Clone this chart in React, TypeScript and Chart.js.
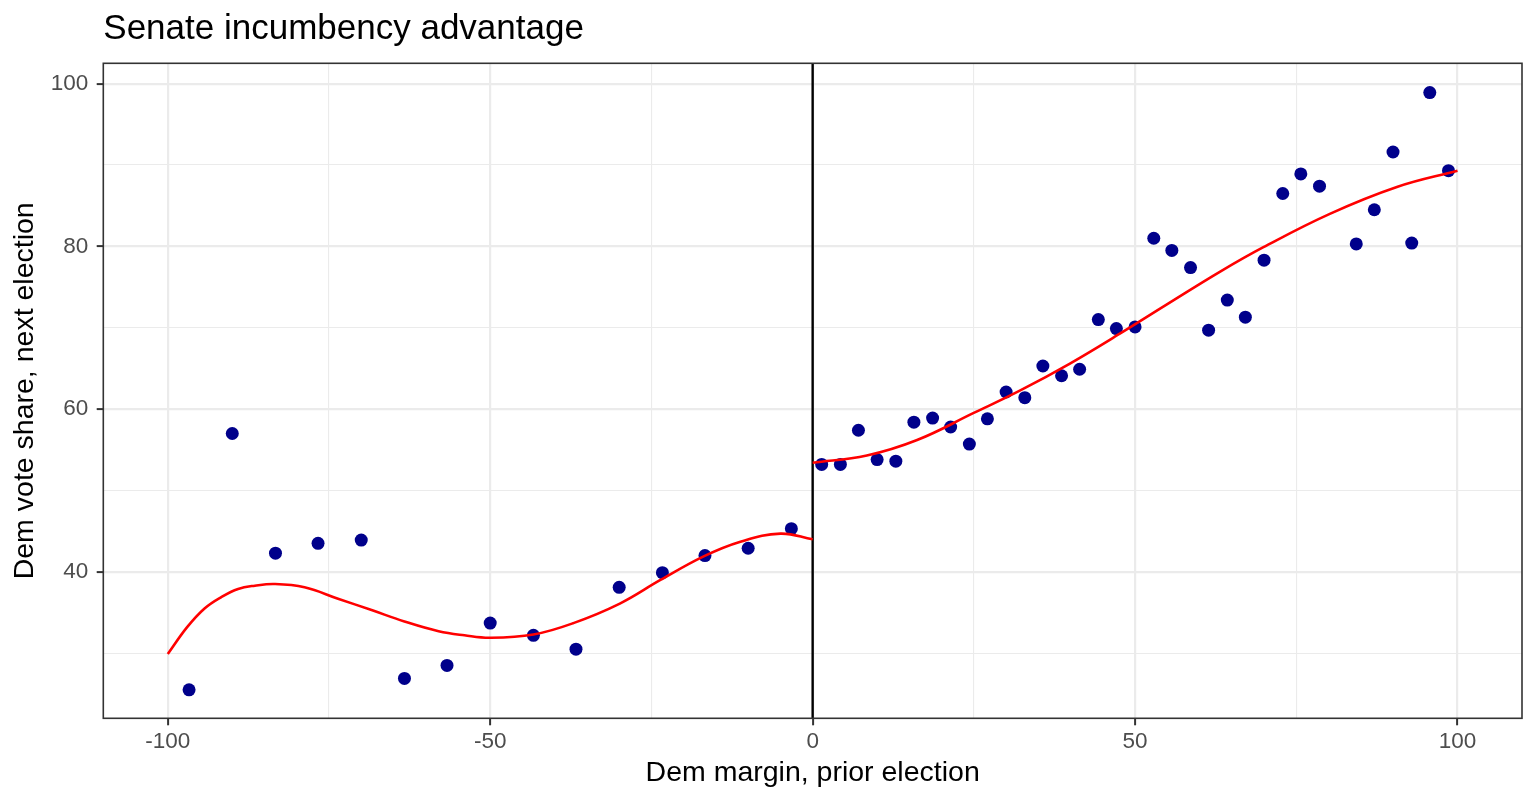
import React, { useEffect, useRef } from 'react';
import { Chart, registerables } from 'chart.js';

Chart.register(...registerables);

// observed races, Dem margin below zero
const leftMarginX = [-96.7, -90.0, -83.3, -76.7, -70.0, -63.3, -56.7, -50.0, -43.3, -36.7, -30.0, -23.3, -16.7, -10.0, -3.3];
const leftVoteShare = [25.5, 57.0, 42.3, 43.5, 43.9, 26.9, 28.5, 33.7, 32.2, 30.5, 38.1, 39.9, 42.0, 42.9, 45.3];

// observed races, Dem margin above zero
const rightMarginX = [
  1.4, 4.3, 7.1, 10.0, 12.9, 15.7, 18.6, 21.4, 24.3, 27.1, 30.0, 32.9, 35.7, 38.6, 41.4, 44.3, 47.1,
  50.0, 52.9, 55.7, 58.6, 61.4, 64.3, 67.1, 70.0, 72.9, 75.7, 78.6, 84.3, 87.1, 90.0, 92.9, 95.7, 98.6,
];
const rightVoteShare = [
  53.2, 53.2, 57.4, 53.8, 53.6, 58.4, 58.9, 57.8, 55.7, 58.8, 62.1, 61.4, 65.3, 64.1, 64.9, 71.0, 69.9,
  70.1, 81.0, 79.5, 77.4, 69.7, 73.4, 71.3, 78.3, 86.5, 88.9, 87.4, 80.3, 84.5, 91.6, 80.4, 98.9, 89.3,
];

// smoothed fits
const leftFitX = [-100, -97.0, -94.3, -91.7, -89.1, -86.5, -83.4, -78.8, -73.6, -68.4, -63.3, -58.0, -54.0, -50.0, -43.3, -37.1, -29.9, -23.6, -16.9, -11.2, -5.0, 0];
const leftFitY = [29.9, 33.2, 35.5, 36.9, 37.9, 38.3, 38.5, 38.1, 36.7, 35.3, 33.9, 32.7, 32.2, 31.9, 32.3, 33.7, 36.1, 39.0, 41.9, 43.7, 44.7, 44.0];
const rightFitX = [0, 8.4, 16.2, 24.9, 32.2, 39.9, 47.7, 55.0, 63.2, 69.9, 80.2, 90.6, 100];
const rightFitY = [53.4, 54.3, 56.2, 59.5, 62.3, 65.6, 69.3, 72.9, 76.9, 79.9, 84.0, 87.3, 89.3];

const xTicks = [-100, -75, -50, -25, 0, 25, 50, 75, 100];
const yTicks = [30, 40, 50, 60, 70, 80, 90, 100];
const discontinuityAt = 0;

const FONT = '"Liberation Sans", Arial, Helvetica, sans-serif';

const toPoints = (xs: number[], ys: number[]) => xs.map((x, i) => ({ x, y: ys[i] }));

const panelPlugin = {
  id: 'panel',
  beforeDatasetsDraw(chart: any) {
    const { ctx, chartArea, scales } = chart;
    const x = scales.x.getPixelForValue(discontinuityAt);
    ctx.save();
    ctx.strokeStyle = '#000000';
    ctx.lineWidth = 2.4;
    ctx.beginPath();
    ctx.moveTo(x, chartArea.top);
    ctx.lineTo(x, chartArea.bottom);
    ctx.stroke();
    ctx.restore();
  },
  afterDatasetsDraw(chart: any) {
    const { ctx, chartArea } = chart;
    ctx.save();
    ctx.strokeStyle = '#333333';
    ctx.lineWidth = 1.6;
    ctx.strokeRect(chartArea.left, chartArea.top, chartArea.right - chartArea.left, chartArea.bottom - chartArea.top);
    ctx.restore();
  },
};

const SenateChart: React.FC = () => {
  const canvasRef = useRef<HTMLCanvasElement | null>(null);
  const chartInstance = useRef<Chart | null>(null);

  useEffect(() => {
    document.body.style.margin = '0';
    if (!canvasRef.current) return;
    const ctx = canvasRef.current.getContext('2d');
    if (!ctx) return;

    if (chartInstance.current) {
      chartInstance.current.destroy();
    }

    const fitStyle = {
      showLine: true,
      borderColor: '#FF0000',
      borderWidth: 2.6,
      pointRadius: 0,
      tension: 0.4,
    };
    const pointStyle = {
      backgroundColor: '#00008B',
      borderWidth: 0,
      pointRadius: 6.5,
    };

    chartInstance.current = new Chart(ctx, {
      type: 'scatter',
      data: {
        datasets: [
          { label: 'fit left', data: toPoints(leftFitX, leftFitY), ...fitStyle },
          { label: 'fit right', data: toPoints(rightFitX, rightFitY), ...fitStyle },
          { label: 'left', data: toPoints(leftMarginX, leftVoteShare), ...pointStyle },
          { label: 'right', data: toPoints(rightMarginX, rightVoteShare), ...pointStyle },
        ],
      },
      options: {
        responsive: false,
        animation: false,
        layout: { padding: { left: 0, right: 14, top: 0, bottom: 0 } },
        plugins: {
          legend: { display: false },
          tooltip: { enabled: false },
          title: {
            display: true,
            text: 'Senate incumbency advantage',
            align: 'start',
            fullSize: false,
            color: '#000000',
            font: { family: FONT, size: 35, weight: 'normal' },
            padding: { top: 7.9, bottom: 13.4 },
          },
        },
        scales: {
          x: {
            type: 'linear',
            min: -110,
            max: 110,
            afterBuildTicks: (scale: any) => {
              scale.ticks = xTicks.map((v) => ({ value: v }));
            },
            afterFit: (scale: any) => {
              scale.height = 87.7;
            },
            border: { display: false },
            grid: {
              color: '#EBEBEB',
              lineWidth: (c: any) => (c.tick && c.tick.value % 50 === 0 ? 2.2 : 1.1),
              tickColor: (c: any) => (c.tick && c.tick.value % 50 === 0 ? '#333333' : 'rgba(0,0,0,0)'),
              tickLength: 7,
              tickWidth: 2,
            },
            ticks: {
              color: '#4D4D4D',
              font: { family: FONT, size: 22.5 },
              padding: 3,
              maxRotation: 0,
              autoSkip: false,
              callback: (v: any) => (Number(v) % 50 === 0 ? String(v) : ''),
            },
            title: {
              display: true,
              text: 'Dem margin, prior election',
              color: '#000000',
              font: { family: FONT, size: 28.5 },
              padding: { top: 0, bottom: 15.6 },
            },
          },
          y: {
            type: 'linear',
            min: 22.0,
            max: 102.5,
            afterBuildTicks: (scale: any) => {
              scale.ticks = yTicks.map((v) => ({ value: v }));
            },
            afterFit: (scale: any) => {
              scale.width = 103.3;
            },
            border: { display: false },
            grid: {
              color: '#EBEBEB',
              lineWidth: (c: any) => (c.tick && c.tick.value % 20 === 0 ? 2.2 : 1.1),
              tickColor: (c: any) => (c.tick && c.tick.value % 20 === 0 ? '#333333' : 'rgba(0,0,0,0)'),
              tickLength: 6.6,
              tickWidth: 2,
            },
            ticks: {
              color: '#4D4D4D',
              font: { family: FONT, size: 22.5 },
              padding: 8.4,
              autoSkip: false,
              callback: (v: any) => (Number(v) % 20 === 0 ? String(v) : ''),
            },
            title: {
              display: true,
              text: 'Dem vote share, next election',
              color: '#000000',
              font: { family: FONT, size: 28.5 },
              padding: { top: 8.4, bottom: 0 },
            },
          },
        },
      },
      plugins: [panelPlugin],
    });

    return () => {
      if (chartInstance.current) {
        chartInstance.current.destroy();
        chartInstance.current = null;
      }
    };
  }, []);

  return (
    <div style={{ width: 1536, height: 806, background: '#ffffff' }}>
      <canvas ref={canvasRef} width={1536} height={806} style={{ display: 'block' }} />
    </div>
  );
};

export default function App() {
  return <SenateChart />;
}
